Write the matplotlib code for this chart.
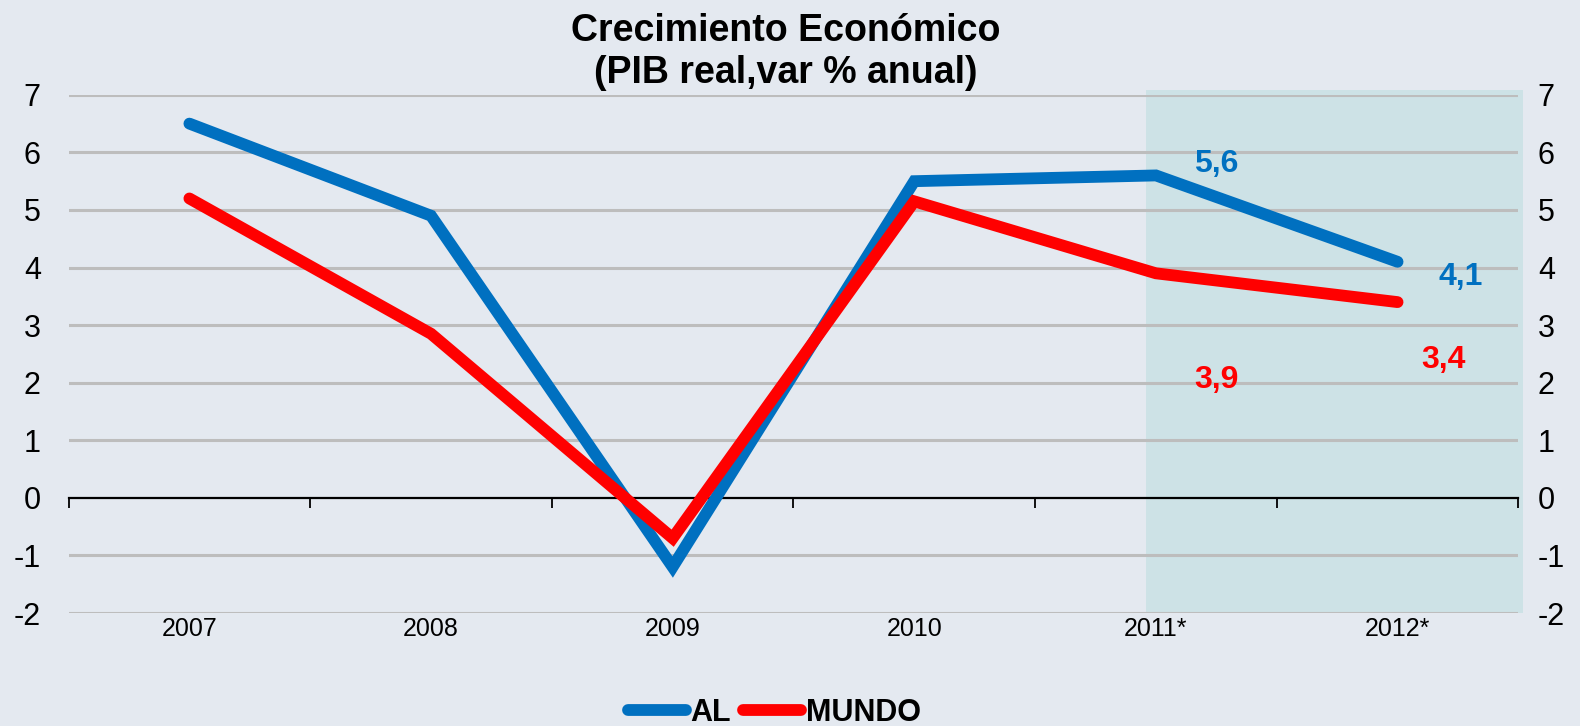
import matplotlib.pyplot as plt
from matplotlib.patches import Rectangle

plt.rcParams['font.family'] = ['Liberation Sans', 'DejaVu Sans']
plt.rcParams['axes.unicode_minus'] = False

years = ['2007', '2008', '2009', '2010', '2011*', '2012*']
al = [6.5, 4.9, -1.2, 5.5, 5.6, 4.1]
mundo = [5.2, 2.85, -0.7, 5.15, 3.9, 3.4]
# annotated values: (x, y, text)
al_labels = [(4.25, 5.8, '5,6'), (5.26, 3.83, '4,1')]
mundo_labels = [(4.25, 2.05, '3,9'), (5.19, 2.39, '3,4')]

bg = '#e4e9f0'
blue = '#0070c0'
red = '#ff0000'

fig = plt.figure(figsize=(15.8, 7.26), dpi=100, facecolor=bg)
ax = fig.add_axes([0.0434, 0.1556, 0.9176, 0.7138])
ax.set_facecolor(bg)
x = list(range(len(years)))

ax.set_xlim(-0.5, 5.5)
ax.set_ylim(-2, 7)

# projection zone
ax.add_patch(Rectangle((3.96, -2), 1.56, 9.09, facecolor='#cde2e6', edgecolor='none',
                       zorder=0, clip_on=False))

for yv in range(-2, 8):
    if yv != 0:
        ax.axhline(yv, color='#bdbdbd', lw=2.2, zorder=1)

ax.plot(x, al, color=blue, lw=8.5, solid_capstyle='round', solid_joinstyle='miter',
        zorder=3, label='AL')
ax.plot(x, mundo, color=red, lw=8.5, solid_capstyle='round', solid_joinstyle='miter',
        zorder=4, label='MUNDO')

for xx, yy, t in al_labels:
    ax.text(xx, yy, t, color=blue, fontsize=23, fontweight='bold', ha='center', va='center')
for xx, yy, t in mundo_labels:
    ax.text(xx, yy, t, color=red, fontsize=23, fontweight='bold', ha='center', va='center')

for s in ['top', 'left', 'right']:
    ax.spines[s].set_visible(False)
ax.spines['bottom'].set_position(('data', 0))
ax.spines['bottom'].set_color('black')
ax.spines['bottom'].set_linewidth(1.6)
ax.spines['bottom'].set_zorder(2)

ax.set_xticks(x)
ax.set_xticklabels(years, fontsize=18)
ax.set_xticks([i - 0.5 for i in range(len(years) + 1)], minor=True)
ax.tick_params(axis='x', which='major', length=0, pad=86)
ax.tick_params(axis='x', which='minor', length=7, width=1.3, color='black', direction='out')

ax.set_yticks(range(-2, 8))
ax.tick_params(axis='y', length=0, labelsize=22, pad=20)

ax2 = ax.twinx()
ax2.set_ylim(-2, 7)
ax2.set_yticks(range(-2, 8))
ax2.tick_params(axis='y', length=0, labelsize=22, pad=14)
for s in ax2.spines.values():
    s.set_visible(False)

fig.text(0.497, 0.982, 'Crecimiento Económico\n(PIB real,var % anual)', ha='center', va='top',
         fontsize=27, fontweight='bold', linespacing=1.2)

leg = fig.legend(loc='center', bbox_to_anchor=(0.49, 0.018), ncol=2, frameon=False,
                 prop={'weight': 'bold', 'size': 22}, handlelength=1.9,
                 handletextpad=0.15, columnspacing=0.4)

fig.savefig('out.png', dpi=100, facecolor=bg)
